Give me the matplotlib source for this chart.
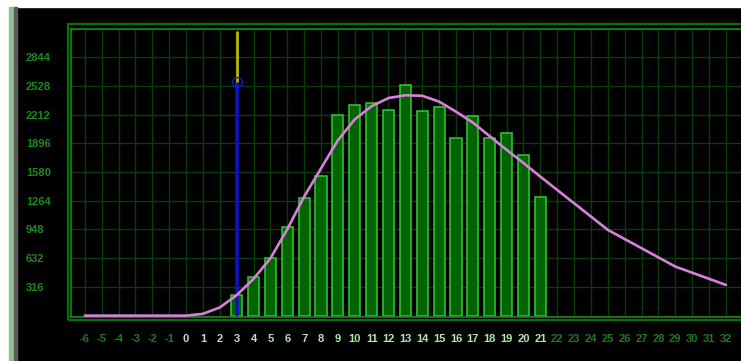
import matplotlib
matplotlib.use("Agg")
import matplotlib.pyplot as plt
from matplotlib.patches import Rectangle
import numpy as np

# histogram bars
bar_x = list(range(3, 22))
bar_h = [230, 420, 630, 980, 1300, 1540, 2210, 2320, 2345, 2265, 2540,
         2250, 2300, 1950, 2195, 1950, 2005, 1765, 1310]

# fitted curve
curve_x = list(range(-6, 22)) + [25, 29, 32]
curve_y = [0, 0, 0, 0, 0, 0, 0, 20, 90, 225, 405, 630, 950, 1310, 1620,
           1930, 2160, 2305, 2395, 2425, 2420, 2355, 2245, 2125, 1975,
           1825, 1680, 1530, 944, 540, 338]

# marker line
marker_x = 3
marker_y = 2575

y_ticks = [316 * i for i in range(0, 11)]
y_labels = [str(v) for v in y_ticks[1:10]]
x_ticks = list(range(-6, 33))

W, H = 741, 361
fig = plt.figure(figsize=(W / 100, H / 100), dpi=100, facecolor="black")

# window chrome
fig.patches.append(Rectangle((0, 1 - 7 / H), 1, 7 / H, transform=fig.transFigure,
                             color="white", zorder=0))
fig.patches.append(Rectangle((0, 0), 9 / W, 1, transform=fig.transFigure,
                             color="white", zorder=0))
fig.patches.append(Rectangle((9 / W, 0), 5 / W, 1 - 7 / H, transform=fig.transFigure,
                             color="#8fc08f", zorder=0))
fig.patches.append(Rectangle((14 / W, 0), 3 / W, 1 - 7 / H, transform=fig.transFigure,
                             color="#5a5a5a", zorder=0))

x0, x1 = -6.82, 33.2
y0, y1 = -15, 3160
px_x = 16.87
left = 71
right = left + (x1 - x0) * px_x
top = 28.5
bottom = 317
ax = fig.add_axes([left / W, 1 - bottom / H, (right - left) / W, (bottom - top) / H])
ax.set_facecolor("black")
ax.set_xlim(x0, x1)
ax.set_ylim(y0, y1)

# outer frame
fig.patches.append(Rectangle(((left - 3.5) / W, 1 - (bottom + 3) / H),
                             (right - left + 7) / W, (bottom - top + 8) / H,
                             transform=fig.transFigure, fill=False,
                             edgecolor="#0c6e0c", lw=1.6, zorder=1))

for s in ax.spines.values():
    s.set_color("#138a13")
    s.set_linewidth(1.2)

ax.set_xticks(x_ticks)
ax.set_yticks(y_ticks)
ax.grid(True, color="#0b3d0b", lw=1.0, zorder=0)
ax.set_axisbelow(True)
ax.tick_params(length=0)

font = dict(family=["Liberation Sans Narrow", "Liberation Sans", "DejaVu Sans"],
            weight="bold", size=8)

ax.set_yticklabels([""] + y_labels + [""], color="#1a8a1a", ha="left", **font)
ax.tick_params(axis="y", pad=32.4)

ax.set_xticklabels([str(v) for v in x_ticks], **font)
ax.tick_params(axis="x", pad=12)
for v, lab in zip(x_ticks, ax.get_xticklabels()):
    lab.set_color("#b4e6b4" if 0 <= v <= 21 else "#1c7a1c")

ax.bar(bar_x, bar_h, width=0.66, color="#006400", edgecolor="#36c836",
       linewidth=1.1, zorder=2)

ax.vlines(marker_x, 0, marker_y, color="#1010c8", lw=2.6, zorder=3)
ax.vlines(marker_x, marker_y, 3130, color="#b8b800", lw=2.0, zorder=3)
ax.plot([marker_x], [marker_y], "o", mfc="none", mec="#1818d0", ms=7, mew=1.0, zorder=4)

ax.plot(curve_x, curve_y, color="#da80dc", lw=1.9, zorder=5,
        solid_capstyle="round", solid_joinstyle="round")

fig.savefig("out.png", dpi=100, facecolor=fig.get_facecolor())
